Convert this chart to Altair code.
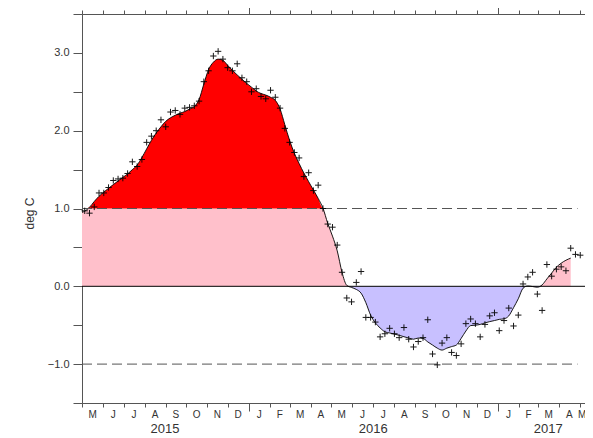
import altair as alt
import pandas as pd

# ---- data ----
# weekly anomalies (crosses), first week centred 2015-05-05
cross_first = "2015-05-05"
anom = [0.97, 0.94, 1.02, 1.20, 1.20, 1.27, 1.36, 1.38, 1.39, 1.45,
        1.60, 1.54, 1.63, 1.85, 1.93, 2.00, 2.14, 2.05, 2.24, 2.26,
        2.21, 2.29, 2.30, 2.32, 2.38, 2.63, 2.77, 2.96, 3.02, 2.92,
        2.81, 2.77, 2.86, 2.68, 2.63, 2.50, 2.54, 2.44, 2.41, 2.52,
        2.43, 2.29, 2.03, 1.85, 1.72, 1.65, 1.41, 1.46, 1.23, 1.30,
        1.00, 0.80, 0.76, 0.53, 0.18, -0.15, -0.20, 0.05, 0.19, -0.40,
        -0.40, -0.46, -0.65, -0.61, -0.54, -0.61, -0.66, -0.53, -0.68, -0.78,
        -0.71, -0.66, -0.43, -0.87, -1.01, -0.73, -0.66, -0.85, -0.89, -0.74,
        -0.48, -0.42, -0.48, -0.65, -0.49, -0.38, -0.34, -0.57, -0.44, -0.28,
        -0.51, -0.37, 0.03, 0.12, 0.18, -0.10, -0.31, 0.28, 0.13, 0.22,
        0.25, 0.20, 0.49, 0.41, 0.40]

# smoothed curve: first value at 2015-05-01, then on the weekly dates
curve_first = "2015-05-01"
curve = [0.95,
         0.965, 1.015, 1.09, 1.157, 1.21, 1.26, 1.307, 1.354, 1.40, 1.445,
         1.50, 1.558, 1.655, 1.766, 1.876, 1.97, 2.05, 2.12, 2.166, 2.198,
         2.225, 2.246, 2.278, 2.31, 2.40, 2.60, 2.786, 2.88, 2.92, 2.905,
         2.84, 2.775, 2.717, 2.662, 2.608, 2.56, 2.51, 2.478, 2.458, 2.43,
         2.39, 2.28, 2.076, 1.876, 1.71, 1.578, 1.455, 1.345, 1.237, 1.13,
         1.004, 0.81, 0.645, 0.455, 0.18, 0.012, -0.015, -0.04, -0.088, -0.21,
         -0.37, -0.47, -0.535, -0.585, -0.60, -0.614, -0.63, -0.648, -0.665, -0.68,
         -0.665, -0.67, -0.715, -0.755, -0.795, -0.82, -0.795, -0.775, -0.755, -0.67,
         -0.575, -0.505, -0.50, -0.49, -0.47, -0.454, -0.44, -0.425, -0.418, -0.38,
         -0.275, -0.16, -0.025, 0.004, -0.003, -0.012, 0.018, 0.095, 0.17, 0.245,
         0.297, 0.335, 0.362]

threshold = 1.0
dash_levels = [1.0, -1.0]
dash_start = "2015-05-01"
dash_end = "2017-04-28"

x_start = "2015-05-01"
x_end = "2017-05-09"

month_letters = ["M", "J", "J", "A", "S", "O", "N", "D", "J", "F", "M", "A",
                 "M", "J", "J", "A", "S", "O", "N", "D", "J", "F", "M", "A", "M"]
years = ["2015", "2016", "2017"]
year_pos = ["2015-08-31", "2016-07-02", "2017-03-16"]
y_ticks = [-1.5, -1.0, -0.5, 0.0, 0.5, 1.0, 1.5, 2.0, 2.5, 3.0, 3.5]

# ---- tables ----
cross_dates = pd.date_range(cross_first, periods=len(anom), freq="7D")
df_cross = pd.DataFrame({"date": cross_dates, "v": anom})

curve_dates = [pd.Timestamp(curve_first)] + list(cross_dates[: len(curve) - 1])
df_curve = pd.DataFrame({"date": curve_dates, "v": curve})
df_curve["red"] = df_curve["v"].clip(lower=threshold)
df_curve["pink"] = df_curve["v"].clip(lower=0, upper=threshold)
df_curve["lav"] = df_curve["v"].clip(upper=0)
df_curve["zero"] = 0.0
df_curve["one"] = threshold

month_starts = list(pd.date_range(x_start, periods=len(month_letters), freq="MS"))
ends = month_starts[1:] + [pd.Timestamp(x_end)]
mids = [s + (e - s) / 2 for s, e in zip(month_starts, ends)]
df_month = pd.DataFrame({"date": mids, "label": month_letters})
df_year = pd.DataFrame({"date": pd.to_datetime(year_pos), "label": years})
df_dash = pd.DataFrame({"y": dash_levels, "s": pd.to_datetime([dash_start] * 2),
                        "e": pd.to_datetime([dash_end] * 2)})
df_zero = pd.DataFrame({"y": [0.0]})


def dt(ts):
    return alt.DateTime(year=ts.year, month=ts.month, date=ts.day)


xscale = alt.Scale(domain=[dt(pd.Timestamp(x_start)), dt(pd.Timestamp(x_end))])
yscale = alt.Scale(domain=[-1.5, 3.5], nice=False, zero=False)

tick_vals = [dt(d) for d in month_starts]
tsize = {"condition": {"test": "month(datum.value) == 0", "value": 8}, "value": 4}
axis_col = "#555555"

bottom_axis = alt.Axis(orient="bottom", values=tick_vals, labels=False, title=None,
                       tickSize=tsize, tickColor=axis_col, domainColor=axis_col,
                       grid=False)
top_axis = alt.Axis(orient="top", values=tick_vals, labels=False, title=None,
                    tickSize=tsize, tickColor=axis_col, domainColor=axis_col,
                    grid=False)
y_axis = alt.Axis(orient="left", values=y_ticks, grid=False, tickSize=9,
                  tickColor=axis_col, domainColor=axis_col, labelPadding=4,
                  labelFontSize=11, labelFont="Liberation Sans",
                  labelColor="#333333",
                  labelExpr="abs(datum.value % 1) < 0.01 ? format(datum.value, '.1f') : ''",
                  title="deg C", titleFont="Liberation Sans", titleFontSize=12,
                  titleFontWeight="normal", titleColor="#333333",
                  titleX=-53, titleY=199, titleAngle=270, titleAlign="center",
                  titleBaseline="middle")


def Y(field):
    return alt.Y(field, scale=yscale, axis=y_axis)


base = alt.Chart(df_curve)
pink = base.mark_area(color="#FFC0CB", interpolate="monotone").encode(
    x=alt.X("date:T", scale=xscale, axis=bottom_axis),
    y=Y("pink:Q"), y2="zero:Q")
red = base.mark_area(color="#FF0000", interpolate="monotone").encode(
    x=alt.X("date:T", scale=xscale, axis=None),
    y=Y("red:Q"), y2="one:Q")
lav = base.mark_area(color="#C8C0FF", interpolate="monotone").encode(
    x=alt.X("date:T", scale=xscale, axis=None),
    y=Y("lav:Q"), y2="zero:Q")
line = base.mark_line(color="black", strokeWidth=0.9, interpolate="monotone").encode(
    x=alt.X("date:T", scale=xscale, axis=None),
    y=Y("v:Q"))

dash = alt.Chart(df_dash).mark_rule(color="#555555", strokeWidth=1,
                                    strokeDash=[10, 5]).encode(
    x=alt.X("s:T", scale=xscale, axis=None), x2="e:T",
    y=Y("y:Q"))
zero = alt.Chart(df_zero).mark_rule(color="black", strokeWidth=1).encode(
    y=Y("y:Q"))

crosses = alt.Chart(df_cross).mark_point(
    shape="M-1,0L1,0M0,-1L0,1", size=40, filled=False, stroke="black",
    strokeWidth=1, opacity=0.9).encode(
    x=alt.X("date:T", scale=xscale, axis=top_axis),
    y=Y("v:Q"))

months = alt.Chart(df_month).mark_text(font="Liberation Sans", fontSize=10,
                                       color="#333333", baseline="middle").encode(
    x=alt.X("date:T", scale=xscale, axis=None), y=alt.value(401), text="label:N")
yearlab = alt.Chart(df_year).mark_text(font="Liberation Sans", fontSize=13,
                                       color="#333333", baseline="middle").encode(
    x=alt.X("date:T", scale=xscale, axis=None), y=alt.value(415), text="label:N")

chart = alt.layer(pink, red, lav, line, dash, zero, crosses, months, yearlab).resolve_axis(
    x="independent").properties(
    width=503, height=389,
    autosize=alt.AutoSizeParams(type="none"),
    padding={"left": 74, "top": 6, "right": 0, "bottom": 35},
    background="white",
).configure_view(stroke=None)

chart.save("out.html", embed_options={"renderer": "svg", "actions": False})
